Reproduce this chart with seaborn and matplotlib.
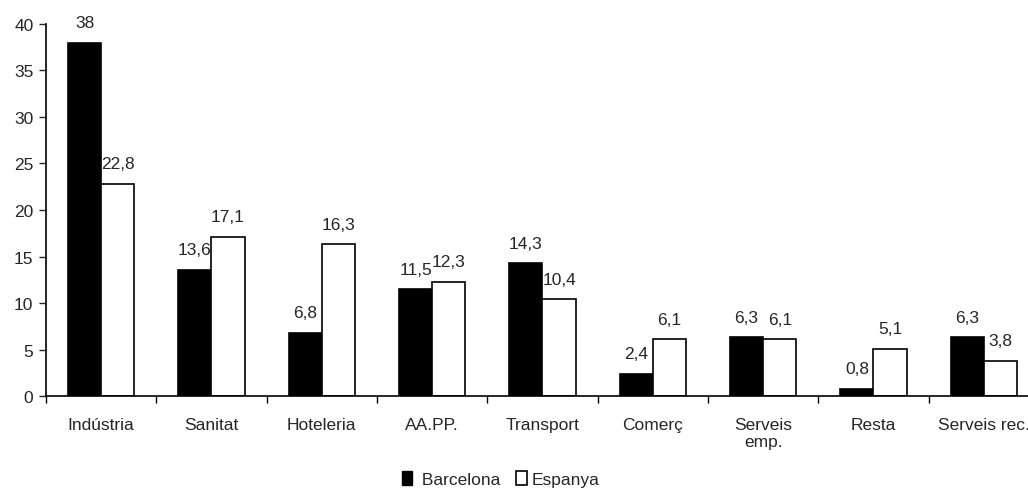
import pandas as pd
import seaborn as sns
import matplotlib.pyplot as plt
from matplotlib.patches import Patch

categories = ["Indústria", "Sanitat", "Hoteleria", "AA.PP.", "Transport",
              "Comerç", "Serveis\nemp.", "Resta", "Serveis rec."]
barcelona = [38, 13.6, 6.8, 11.5, 14.3, 2.4, 6.3, 0.8, 6.3]
espanya = [22.8, 17.1, 16.3, 12.3, 10.4, 6.1, 6.1, 5.1, 3.8]
series = ["Barcelona", "Espanya"]

df = pd.DataFrame({
    "sector": categories * 2,
    "valor": barcelona + espanya,
    "serie": [series[0]] * len(categories) + [series[1]] * len(categories),
})

sns.set_style("white")
plt.rcParams["font.family"] = ["Liberation Sans", "DejaVu Sans"]
fs = 12.5

fig = plt.figure(figsize=(10.28, 4.89), dpi=100)
ax = fig.add_axes([0.0447, 0.188, 0.966, 0.761])

sns.barplot(data=df, x="sector", y="valor", hue="serie", order=categories,
            hue_order=series, palette=["black", "white"], width=0.6,
            edgecolor="black", linewidth=1.2, legend=False, ax=ax)

for cont in ax.containers:
    labels = [f"{v:g}".replace(".", ",") for v in cont.datavalues]
    ax.bar_label(cont, labels=labels, padding=9, fontsize=fs)

ax.set_xlim(-0.5, 8.5)
ax.set_ylim(0, 40)
ax.set_yticks(range(0, 41, 5))
ax.set_xlabel("")
ax.set_ylabel("")
ax.set_xticks([i + 0.5 for i in range(-1, 9)], minor=False)
ax.set_xticklabels([])
ax.set_xticks(range(9), minor=True)
ax.set_xticklabels(categories, minor=True, fontsize=fs)
ax.tick_params(axis="x", which="major", direction="out", length=5, width=1, colors="black")
ax.tick_params(axis="x", which="minor", length=0, pad=15)
ax.tick_params(axis="y", direction="out", length=5, width=1, labelsize=fs, pad=4)
ax.tick_params(left=True, bottom=True)

sns.despine(ax=ax)
ax.spines["left"].set_linewidth(1.2)
ax.spines["bottom"].set_linewidth(1.2)
ax.spines["left"].set_color("black")
ax.spines["bottom"].set_color("black")

handles = [Patch(facecolor="black", edgecolor="black"),
           Patch(facecolor="white", edgecolor="black", linewidth=1.2)]
fig.legend(handles, [" " + series[0], series[1]], loc="lower center",
           bbox_to_anchor=(0.487, -0.03), ncol=2, frameon=False, fontsize=fs,
           handlelength=0.6, handleheight=0.8, handletextpad=0.3,
           columnspacing=0.9)

fig.savefig("out.png", dpi=100)
